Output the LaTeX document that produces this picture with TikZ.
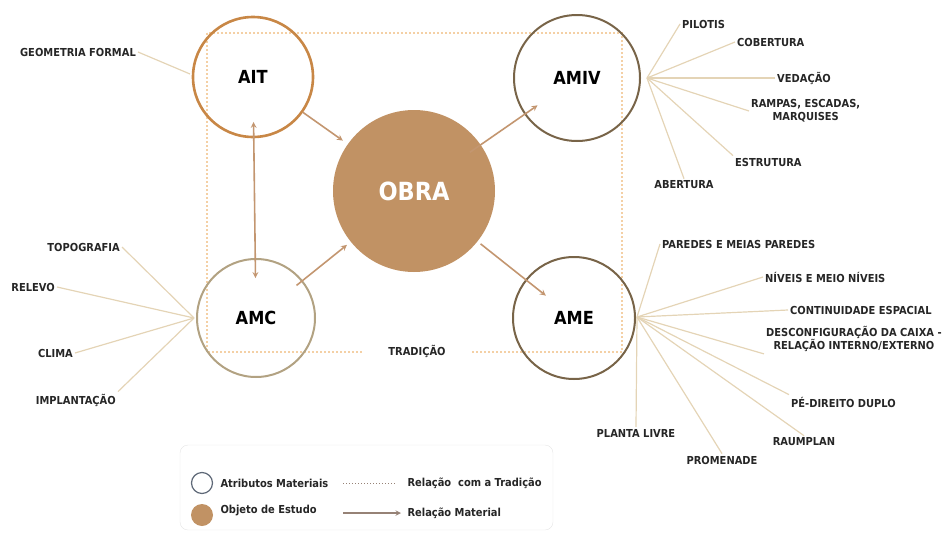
\documentclass[tikz,border=0pt]{standalone}
\usepackage{fontspec}
\setmainfont{DejaVu Sans Condensed}
\usetikzlibrary{arrows}
\definecolor{obratan}{RGB}{193,146,100}
\definecolor{aitline}{RGB}{200,135,70}
\definecolor{ringline}{RGB}{120,100,72}
\definecolor{amcline}{RGB}{178,162,130}
\definecolor{arrowline}{RGB}{195,150,112}
\definecolor{leafline}{RGB}{228,212,182}
\definecolor{tradline}{RGB}{244,208,165}
\definecolor{legendring}{RGB}{95,105,120}
\definecolor{legendline}{RGB}{150,130,118}

\begin{document}
\begin{tikzpicture}[x=1pt,y=-1pt,>=stealth,
    attr node/.style={circle,draw=ringline,line width=2pt,font=\fontsize{18}{18}\selectfont\bfseries},
    leaf/.style={font=\fontsize{11}{13}\selectfont\bfseries,text=black!85,inner sep=2pt,align=center},
    leaf line/.style={draw=leafline,line width=1.2pt},
    material/.style={color=arrowline,line width=1.6pt,->},
    legend text/.style={anchor=west,font=\fontsize{11}{12}\selectfont\bfseries,text=black!85}]

    \useasboundingbox (0,0) rectangle (945,533);

    \draw[tradline,line width=2pt,dotted] (207,33) rectangle (622,352);
    \node[leaf,fill=white,inner xsep=24pt] (trad) at (417,351) {TRADIÇÃO};

    \node[attr node,draw=aitline,line width=2.6pt,minimum size=120pt] (ait) at (253,77) {AIT};
    \node[attr node,minimum size=126pt] (amiv) at (577,78) {AMIV};
    \node[circle,fill=obratan,minimum size=162pt,text=white,font=\fontsize{25}{25}\selectfont\bfseries] (obra) at (414,191) {OBRA};
    \node[attr node,draw=amcline,minimum size=118pt] (amc) at (256,318) {AMC};
    \node[attr node,minimum size=122pt] (ame) at (574,318) {AME};

    \coordinate (hubait) at (190,74);
    \coordinate (hubamiv) at (647,78);
    \coordinate (hubamc) at (194,318);
    \coordinate (hubame) at (637,317);

    \node[leaf,anchor=east] (geometria) at (138,52) {GEOMETRIA FORMAL};

    \node[leaf,anchor=west] (pilotis) at (680,24) {PILOTIS};
    \node[leaf,anchor=west] (cobertura) at (735,42) {COBERTURA};
    \node[leaf,anchor=west] (vedacao) at (775,78) {VEDAÇÃO};
    \node[leaf,anchor=west] (rampas) at (749,111) {RAMPAS, ESCADAS,\\MARQUISES};
    \node[leaf,anchor=west] (estrutura) at (733,162) {ESTRUTURA};
    \node[leaf] (abertura) at (684,185) {ABERTURA};

    \node[leaf,anchor=east] (topografia) at (122,247) {TOPOGRAFIA};
    \node[leaf,anchor=east] (relevo) at (57,287) {RELEVO};
    \node[leaf,anchor=east] (clima) at (75,353) {CLIMA};
    \node[leaf,anchor=east] (implantacao) at (118,400) {IMPLANTAÇÃO};

    \node[leaf,anchor=west] (paredes) at (660,244) {PAREDES E MEIAS PAREDES};
    \node[leaf,anchor=west] (niveis) at (763,277) {NÍVEIS E MEIO NÍVEIS};
    \node[leaf,anchor=west] (continuidade) at (788,310) {CONTINUIDADE ESPACIAL};
    \node[leaf,anchor=west] (desconf) at (764,339) {DESCONFIGURAÇÃO DA CAIXA -\\RELAÇÃO INTERNO/EXTERNO};
    \node[leaf,anchor=west] (pedireito) at (789,402) {PÉ-DIREITO DUPLO};
    \node[leaf] (raumplan) at (804,442) {RAUMPLAN};
    \node[leaf] (promenade) at (722,460) {PROMENADE};
    \node[leaf] (plantalivre) at (636,433) {PLANTA LIVRE};

    \path[leaf line]
        (hubait) edge (geometria.east)
        (hubamiv) edge (pilotis.west)
        (hubamiv) edge (cobertura.west)
        (hubamiv) edge (vedacao.west)
        (hubamiv) edge (rampas.west)
        (hubamiv) edge (estrutura.north west)
        (hubamiv) edge (abertura.north)
        (hubamc) edge (topografia.east)
        (hubamc) edge (relevo.east)
        (hubamc) edge (clima.east)
        (hubamc) edge (implantacao.north east)
        (hubame) edge (paredes.west)
        (hubame) edge (niveis.west)
        (hubame) edge (continuidade.west)
        (hubame) edge (desconf.south west)
        (hubame) edge (pedireito.north west)
        (hubame) edge (raumplan.north)
        (hubame) edge (promenade.north)
        (hubame) edge (plantalivre.north)
    ;

    \path[material]
        (ait.center) edge[<->,shorten <=45pt,shorten >=40pt] (amc.center)
        (ait) edge[shorten >=6pt] (obra)
        (obra.center) edge[shorten <=68pt,shorten >=48pt] (amiv.center)
        (amc.center) edge[shorten <=52pt,shorten >=86pt] (obra.center)
        (obra.center) edge[shorten <=85pt,shorten >=36pt] (ame.center)
    ;

    \draw[rounded corners=8pt,draw=black!10,fill=white] (180,445) rectangle (553,530);
    \node[circle,draw=legendring,line width=1.2pt,minimum size=21pt] (lgattr) at (202,483) {};
    \node[circle,fill=obratan,minimum size=22pt] (lgobra) at (202,515) {};
    \node[legend text] (lgattrtxt) at (217,483) {Atributos Materiais};
    \node[legend text] (lgobratxt) at (217,511) {Objeto de Estudo};
    \node[legend text] (lgtradtxt) at (404,483) {Relação\ \ com a Tradição};
    \node[legend text] (lgmattxt) at (404,513) {Relação Material};
    \coordinate (lgtrada) at (343,483);
    \coordinate (lgmata) at (343,513);
    \draw[legendline,line width=1pt,dotted,shorten >=8pt] (lgtrada) -- (lgtradtxt.west);
    \draw[legendline,line width=1.4pt,->,shorten >=3pt] (lgmata) -- (lgmattxt.west);

\end{tikzpicture}
\end{document}
